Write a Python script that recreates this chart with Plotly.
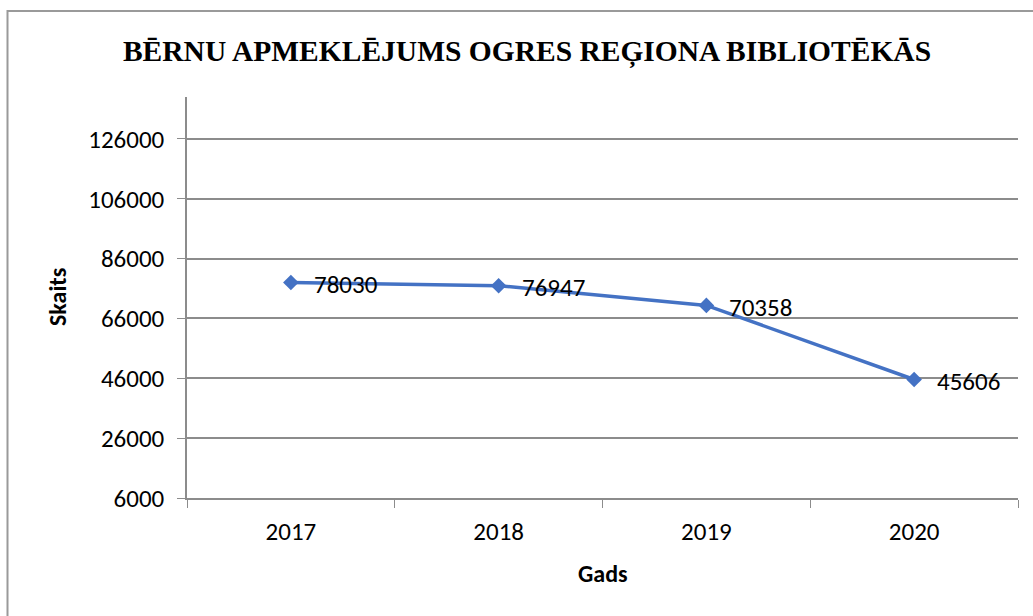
import plotly.graph_objects as go

# Bērnu apmeklējumi Ogres reģiona bibliotēkās
gadi = ["2017", "2018", "2019", "2020"]
apmeklejumi = [78030, 76947, 70358, 45606]

y_ticks = [6000, 26000, 46000, 66000, 86000, 106000, 126000]
y_range = [6000, 140000]

LINE_COLOR = "#4472C4"
AXIS_COLOR = "#8c8c8c"
FONT = "Calibri, Carlito, Lato, sans-serif"

W, H = 1033, 616
L, R, T, B = 187, 15, 97, 118
plot_w = W - L - R
plot_h = H - T - B


def px_x(x):
    # pikseļi -> paper koordinātas
    return (x - L) / plot_w


def px_y(y):
    return (H - B - y) / plot_h


fig = go.Figure()

fig.add_trace(go.Scatter(
    x=gadi,
    y=apmeklejumi,
    mode="lines+markers",
    line=dict(color=LINE_COLOR, width=3.5),
    marker=dict(symbol="diamond", size=12, color=LINE_COLOR),
    hoverinfo="x+y",
    showlegend=False,
))

# Datu etiķetes (kategoriju asij pozīcija pēc indeksa)
for i, v in enumerate(apmeklejumi):
    fig.add_annotation(
        x=i, y=v, text=str(v),
        xanchor="left", yanchor="middle",
        xshift=21, yshift=-2,
        showarrow=False,
        font=dict(family=FONT, size=25, color="black"),
    )

# Asu nosaukumi
fig.add_annotation(
    xref="paper", yref="paper", x=px_x(57), y=px_y(297),
    xanchor="center", yanchor="middle",
    text="<b>Skaits</b>", textangle=-90, showarrow=False,
    font=dict(family=FONT, size=24, color="black"),
)
fig.add_annotation(
    xref="paper", yref="paper", x=px_x(603), y=px_y(573),
    xanchor="center", yanchor="middle",
    text="<b>Gads</b>", showarrow=False,
    font=dict(family=FONT, size=24, color="black"),
)

# Diagrammas rāmis
fig.add_shape(
    type="rect", xref="paper", yref="paper",
    x0=px_x(7.5), x1=px_x(1045), y0=px_y(630), y1=px_y(11),
    line=dict(color="#9a9a9a", width=2),
)

fig.update_layout(
    width=W, height=H,
    margin=dict(l=L, r=R, t=T, b=B),
    paper_bgcolor="white",
    plot_bgcolor="white",
    title=dict(
        text="<b>BĒRNU APMEKLĒJUMS OGRES REĢIONA BIBLIOTĒKĀS</b>",
        x=527 / W, xanchor="center",
        y=1 - 51 / H, yanchor="middle",
        font=dict(family="Times New Roman, Liberation Serif, serif", size=29.5, color="black"),
    ),
    xaxis=dict(
        type="category",
        tickson="boundaries",
        range=[-0.5, 3.5],
        showgrid=False,
        showline=True, linecolor=AXIS_COLOR, linewidth=1.5,
        ticks="outside", ticklen=8, tickcolor=AXIS_COLOR,
        tickfont=dict(family=FONT, size=25, color="black"),
        ticklabelstandoff=10,
    ),
    yaxis=dict(
        range=y_range,
        tickvals=y_ticks,
        tickformat="d",
        showgrid=True, gridcolor=AXIS_COLOR, gridwidth=1.5,
        showline=True, linecolor=AXIS_COLOR, linewidth=1.5,
        zeroline=False,
        ticks="outside", ticklen=8, tickcolor=AXIS_COLOR,
        tickfont=dict(family=FONT, size=25, color="black"),
        ticklabelstandoff=8,
    ),
)

fig.write_html(
    "out.html",
    config={"displayModeBar": False},
    post_script="document.body.style.margin='0';",
)
